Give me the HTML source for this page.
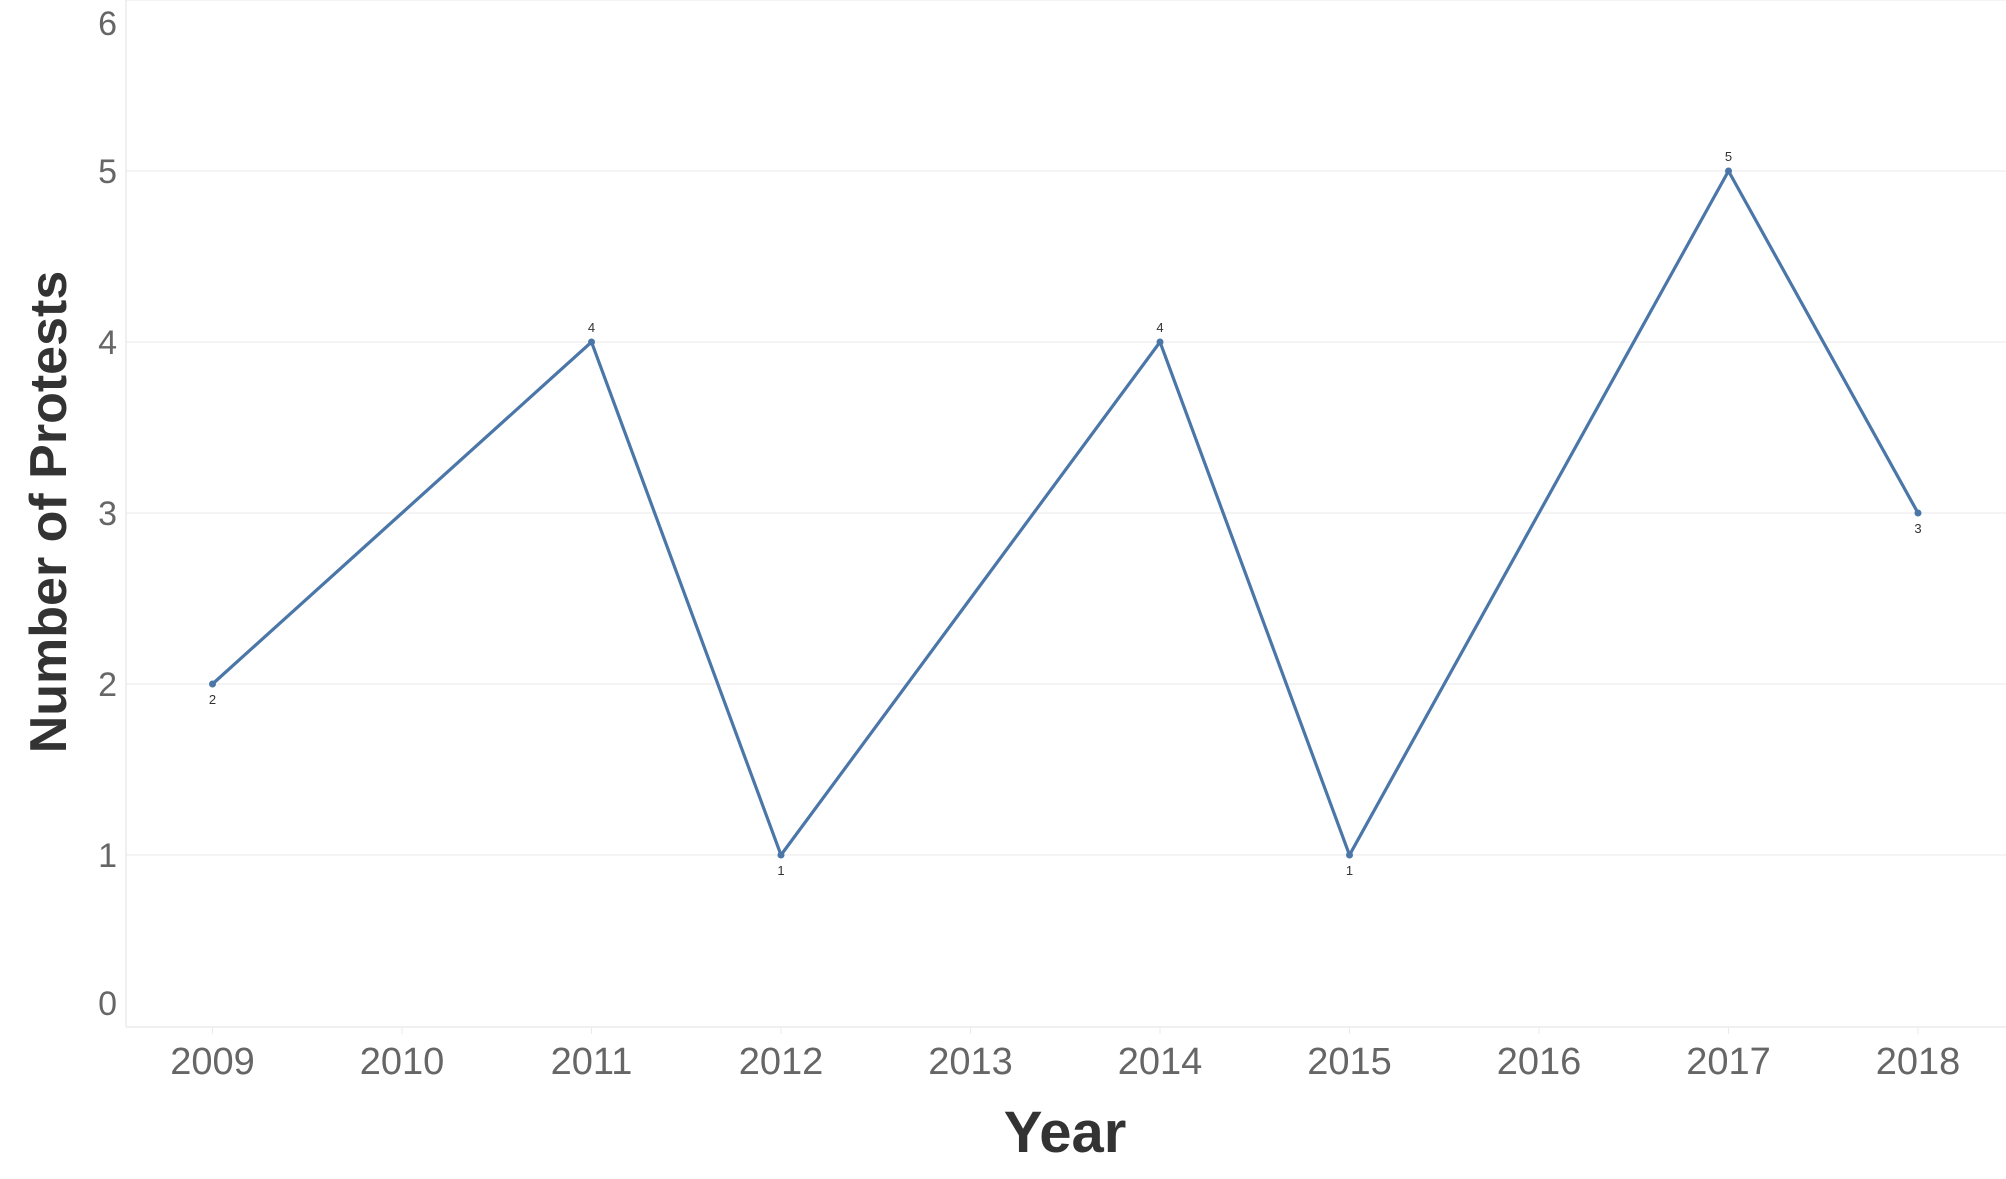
<!DOCTYPE html>
<html><head><meta charset="utf-8"><style>
html,body{margin:0;padding:0;background:#fff;}
svg{display:block;}
text{font-family:"Liberation Sans",sans-serif;}
</style></head><body>
<svg id="chart" width="2006" height="1179">
<g id="grid"></g>
<line x1="126" y1="0" x2="126" y2="1027" stroke="#ebebeb" stroke-width="1.5"/>
<line x1="126" y1="1027" x2="2006" y2="1027" stroke="#ebebeb" stroke-width="1.5"/>
<g id="yticks"></g>
<g id="xticks"></g>
<g id="series"></g>
<text x="49" y="512" transform="rotate(-90 49 512)" text-anchor="middle" dominant-baseline="central" font-size="52" font-weight="bold" fill="#333">Number of Protests</text>
<text x="1065" y="1152" text-anchor="middle" font-size="58" font-weight="bold" fill="#333">Year</text>
</svg>
<script>
const years = ["2009","2010","2011","2012","2013","2014","2015","2016","2017","2018"];
const protests = [2, 3, 4, 1, 2.5, 4, 1, 3, 5, 3];
const labeled = [true, false, true, true, false, true, true, false, true, true];
const yTicks = [0, 1, 2, 3, 4, 5, 6];
const NS = "http://www.w3.org/2000/svg";
function xs(i){ return 212.5 + 189.5 * i; }
function ys(v){ return 1026 - 171 * v; }
function mk(tag, attrs, parent){ const e=document.createElementNS(NS,tag); for(const k in attrs) e.setAttribute(k,attrs[k]); parent.appendChild(e); return e; }
const grid=document.getElementById('grid'), yt=document.getElementById('yticks'), xt=document.getElementById('xticks'), ser=document.getElementById('series');
const tMin=Math.min(...yTicks), tMax=Math.max(...yTicks);
yTicks.forEach(t=>{
  if(t>0){ const g=mk('line',{x1:126,x2:2006,y1:ys(t),y2:ys(t),stroke:'#f0f0f0','stroke-width':1.5},grid);
    
     }
  let cy=ys(t);
  if(t===tMin) cy-=23;
  if(t===tMax) cy+=23;
  const tx=mk('text',{x:117,y:cy+12,'text-anchor':'end','font-size':34,fill:'#666'},yt);
  tx.textContent=String(t);
  
  
});
years.forEach((y,i)=>{
  const tk=mk('line',{x1:xs(i),x2:xs(i),y1:1027,y2:1034,stroke:'#ebebeb','stroke-width':1},xt);
  
  
  const tx=mk('text',{x:xs(i),y:1074,'text-anchor':'middle','font-size':38,fill:'#666'},xt);
  tx.textContent=y;
  
  
});
const pts=protests.map((v,i)=>xs(i)+','+ys(v)).join(' ');
const pl=mk('polyline',{points:pts,fill:'none',stroke:'#4a76a8','stroke-width':3.2,'stroke-linejoin':'miter'},ser);


protests.forEach((v,i)=>{
  if(!labeled[i]) return;
  const c=mk('circle',{cx:xs(i),cy:ys(v),r:3.5,fill:'#4a76a8'},ser);
  
  
  const prev=i>0?protests[i-1]:-1, next=i<protests.length-1?protests[i+1]:-1;
  const peak = v>=Math.max(prev,next);
  const tx=mk('text',{x:xs(i),y:peak?ys(v)-10:ys(v)+20,'text-anchor':'middle','font-size':13,fill:'#333'},ser);
  tx.textContent=String(v);
  
  
});
</script>
</body></html>
